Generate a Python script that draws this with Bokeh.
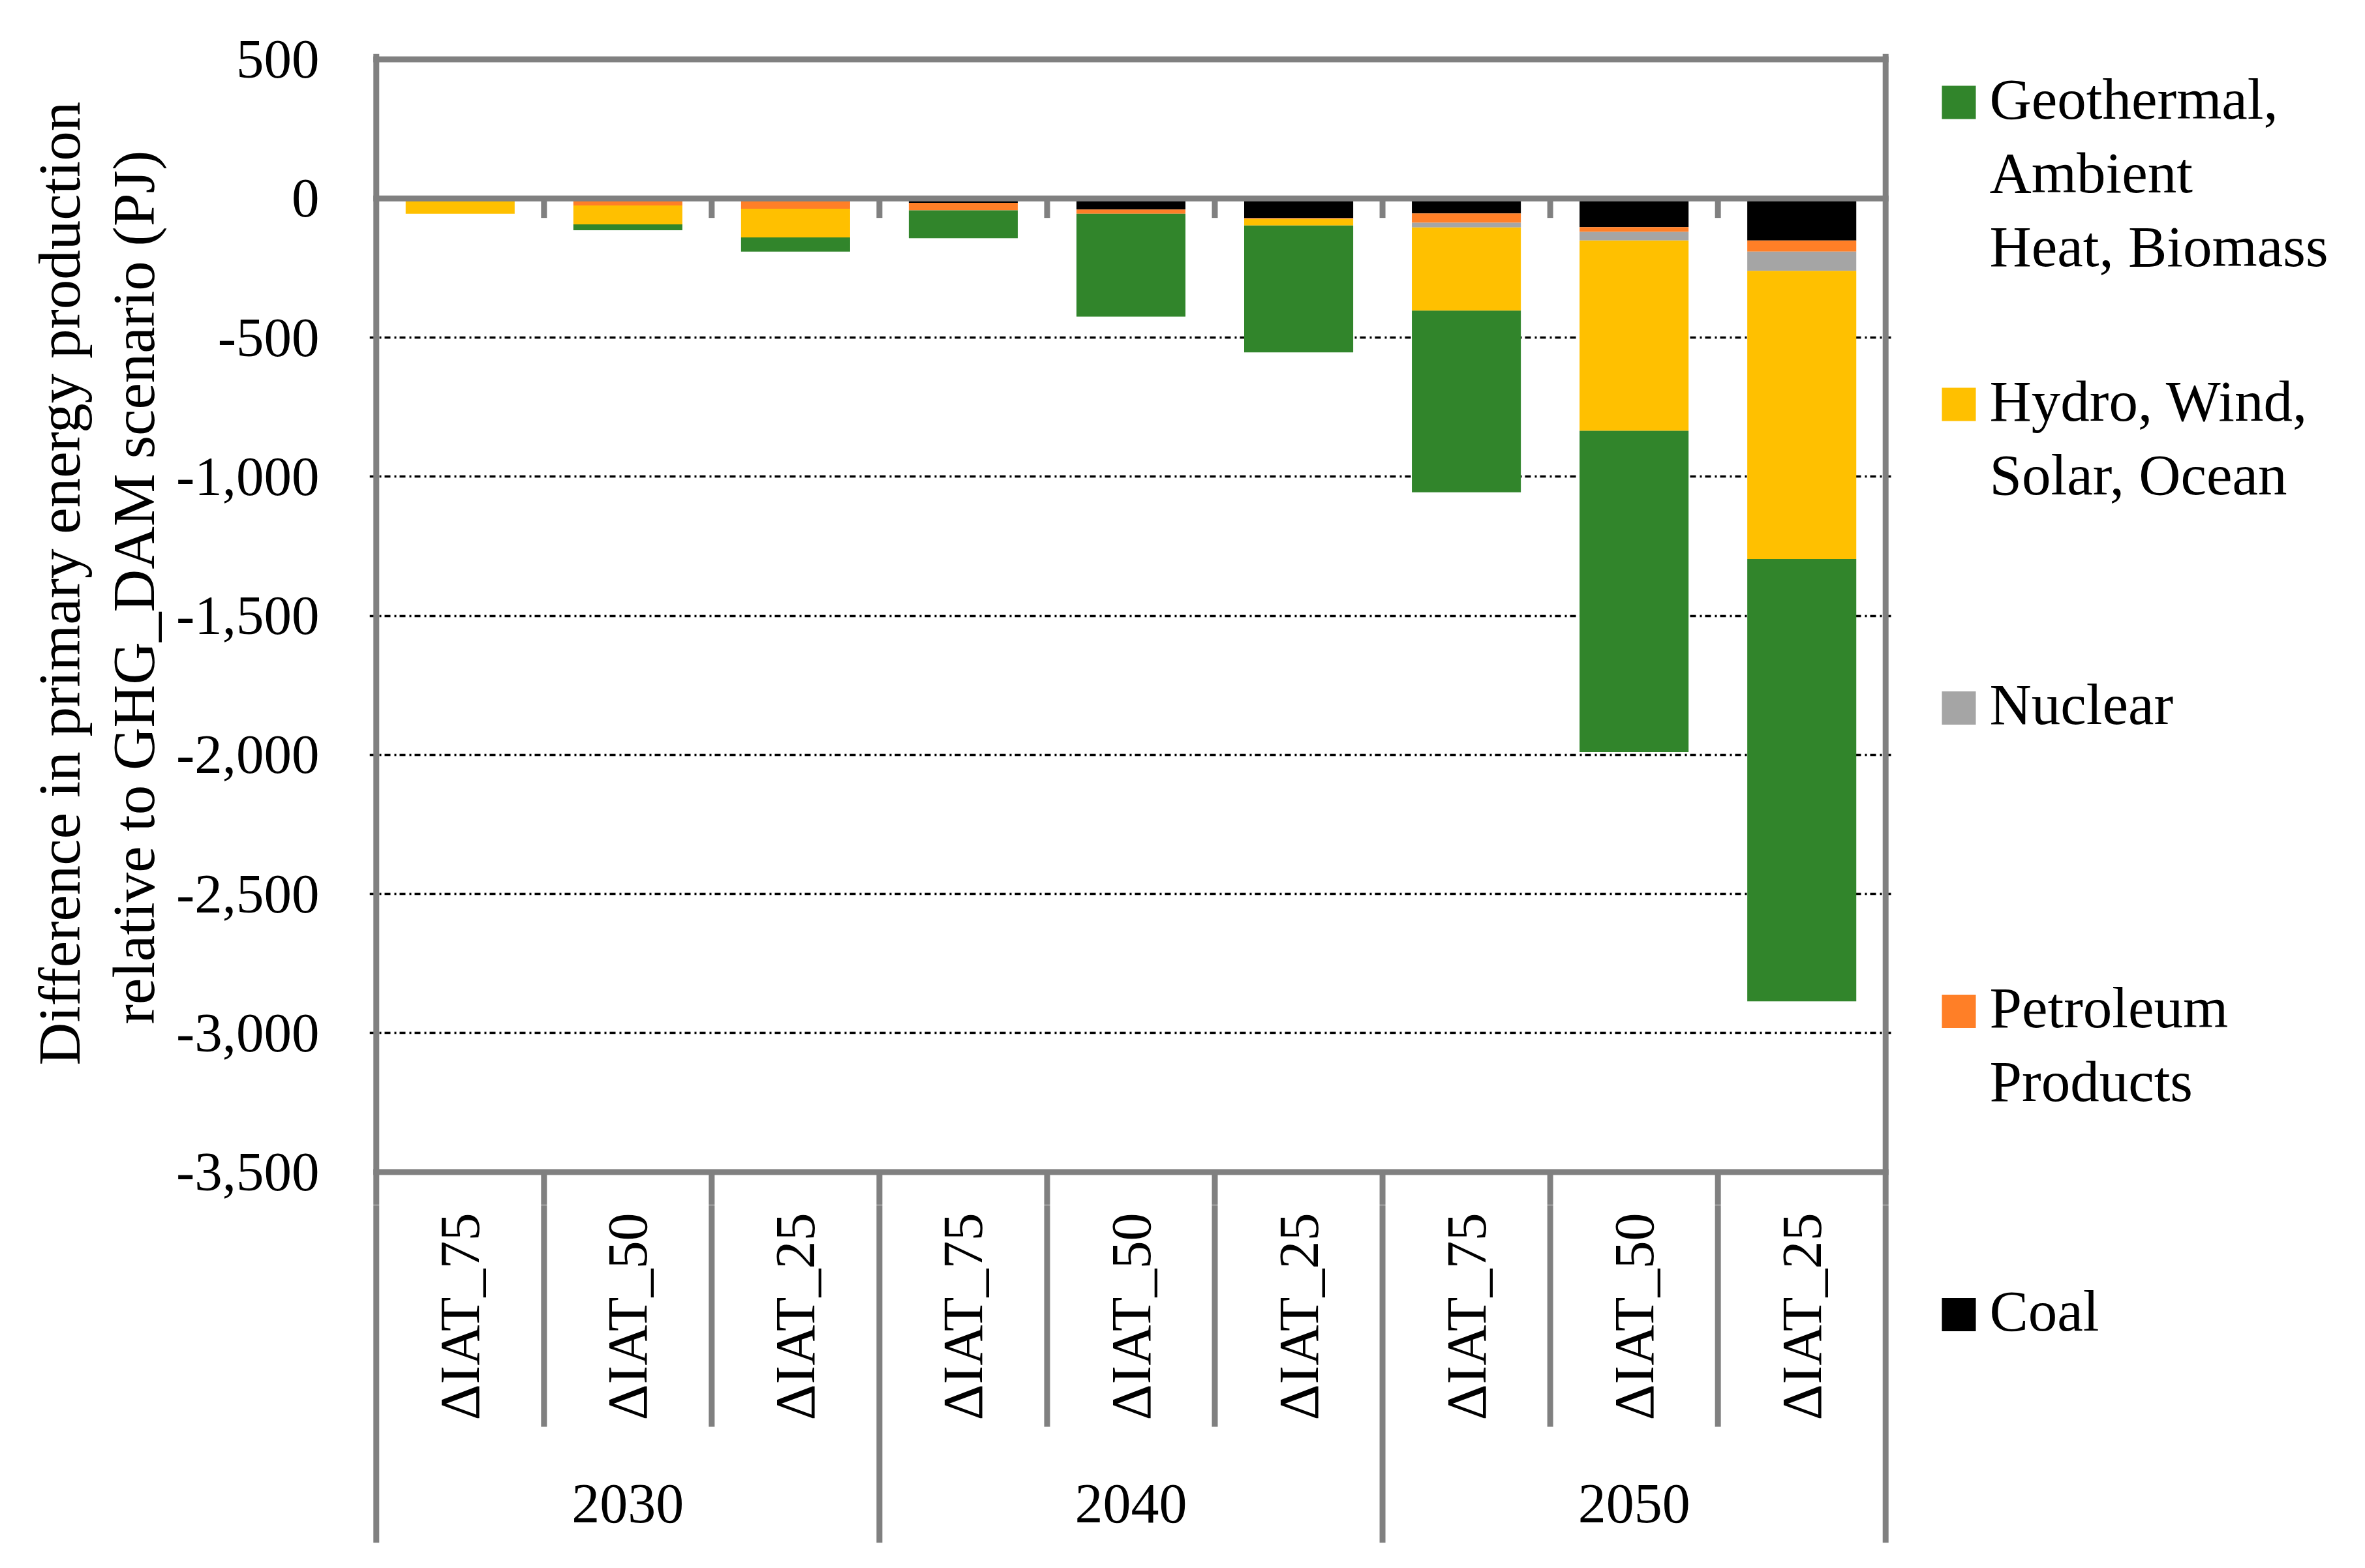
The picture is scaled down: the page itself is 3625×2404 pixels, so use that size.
import math
from bokeh.plotting import figure
from bokeh.layouts import row, column
from bokeh.models import (FactorRange, Range1d, FixedTicker, NumeralTickFormatter,
                          ColumnDataSource)
from bokeh.embed import file_html
from bokeh.resources import INLINE
from bokeh.core.properties import value

# ---------------- data ----------------
years = ["2030", "2040", "2050"]
scenarios = ["ΔIAT_75", "ΔIAT_50", "ΔIAT_25"]

coal = [0, 0, 0, -16, -40, -71, -54, -103, -151]
petroleum = [0, -25, -37, -27, -15, -3, -33, -17, -40]
nuclear = [0, 0, 0, 0, 0, 0, -17, -31, -69]
hydro = [-55, -68, -103, 0, 0, -23, -299, -684, -1036]
geo = [0, -21, -51, -100, -370, -456, -653, -1155, -1590]

series_keys = ["coal", "petroleum", "nuclear", "hydro", "geo"]
series_colors = ["#000000", "#FF7F27", "#A5A5A5", "#FFC000", "#31852B"]

legend_labels = ["Geothermal,\nAmbient\nHeat, Biomass", "Hydro, Wind,\nSolar, Ocean",
                 "Nuclear", "Petroleum\nProducts", "Coal"]
legend_colors = ["#31852B", "#FFC000", "#A5A5A5", "#FF7F27", "#000000"]

y_ticks = [500, 0, -500, -1000, -1500, -2000, -2500, -3000, -3500]
grid_ticks = [-500, -1000, -1500, -2000, -2500, -3000]

y_title_lines = ["Difference in primary energy production",
                 "relative to GHG_DAM scenario (PJ)"]

# ---------------- setup ----------------
FONT = "Liberation Serif"
GRAY = "#808080"
factors = [(y, s) for y in years for s in scenarios]
sub_labels = [s for y in years for s in scenarios]
mid_factors = [(y, scenarios[1]) for y in years]
n = len(factors)

source = ColumnDataSource(data=dict(x=factors, coal=coal, petroleum=petroleum,
                                    nuclear=nuclear, hydro=hydro, geo=geo))

xr = FactorRange(*factors, factor_padding=0, group_padding=0, subgroup_padding=0,
                 range_padding=0.08 / 9, range_padding_units="percent")

TITLE_W = 262
MAIN_W = 2646
LEG_W = 3625 - TITLE_W - MAIN_W
Y_MIN = -3618.3

# ---------------- y-axis title ----------------
tfig = figure(width=TITLE_W, height=2404, x_range=Range1d(0, TITLE_W),
              y_range=Range1d(-2404, 0), output_backend="svg", toolbar_location=None,
              x_axis_location=None, y_axis_location=None, min_border=0)
tfig.outline_line_color = None
tfig.grid.visible = False
tfig.text(x=[91, 205], y=[-894, -900], text=y_title_lines, angle=math.pi / 2,
          text_align="center", text_baseline="middle", text_font=value(FONT),
          text_font_size="91px", text_color="black")

# ---------------- bars ----------------
top = figure(width=MAIN_W, height=1847, x_range=xr, y_range=Range1d(Y_MIN, 520),
             output_backend="svg", toolbar_location=None, x_axis_location=None,
             min_border_left=304, min_border_right=8, min_border_top=82, min_border_bottom=0)
top.outline_line_color = None
top.xgrid.visible = False

ya = top.yaxis[0]
ya.ticker = FixedTicker(ticks=y_ticks)
ya.formatter = NumeralTickFormatter(format="0,0")
ya.axis_line_color = None
ya.major_tick_line_color = None
ya.minor_tick_line_color = None
ya.major_tick_in = 0
ya.major_tick_out = 0
ya.major_label_standoff = 77
ya.major_label_text_font = FONT
ya.major_label_text_font_size = "85px"
ya.major_label_text_color = "black"

top.ygrid.ticker = FixedTicker(ticks=grid_ticks)
top.ygrid.grid_line_color = "black"
top.ygrid.grid_line_width = 3.5
top.ygrid.grid_line_dash = "9 6 3 5"

top.vbar_stack(series_keys, x="x", width=0.65, source=source,
               fill_color=series_colors, line_color=None)

# horizontal frame lines (top, zero, bottom)
top.segment(x0=[0, 0, 0], x1=[n, n, n], y0=[500, 0, -3500], y1=[500, 0, -3500],
            line_color=GRAY, line_width=9, line_cap="square")
# left / right frame lines
top.segment(x0=[0, n], x1=[0, n], y0=[520, 520], y1=[Y_MIN, Y_MIN],
            line_color=GRAY, line_width=9)
# tick marks at the zero line
inner_x = list(range(1, n))
top.segment(x0=inner_x, x1=inner_x, y0=[0] * len(inner_x), y1=[-70] * len(inner_x),
            line_color=GRAY, line_width=9)
# start of the category separators below the plot area
top.segment(x0=inner_x, x1=inner_x, y0=[-3500] * len(inner_x), y1=[Y_MIN] * len(inner_x),
            line_color=GRAY, line_width=9)

# ---------------- category axis area ----------------
bot = figure(width=MAIN_W, height=557, x_range=xr, y_range=Range1d(-518, 0),
             output_backend="svg", toolbar_location=None, x_axis_location=None,
             y_axis_location=None, min_border_left=304, min_border_right=8,
             min_border_top=0, min_border_bottom=39)
bot.outline_line_color = None
bot.grid.visible = False

grp_x = [0, 3, 6, 9]
sub_x = [1, 2, 4, 5, 7, 8]
bot.segment(x0=grp_x, x1=grp_x, y0=[0] * 4, y1=[-518] * 4, line_color=GRAY, line_width=9)
bot.segment(x0=sub_x, x1=sub_x, y0=[0] * 6, y1=[-340] * 6, line_color=GRAY, line_width=9)

bot.text(x=factors, y=[-171] * n, text=sub_labels, angle=math.pi / 2,
         text_align="center", text_baseline="middle", text_font=value(FONT),
         text_font_size="86px", text_color="black")
bot.text(x=mid_factors, y=[-458] * 3, text=years, text_align="center",
         text_baseline="middle", text_font=value(FONT), text_font_size="86px",
         text_color="black")

# ---------------- legend ----------------
leg = figure(width=LEG_W, height=2404, x_range=Range1d(0, LEG_W), y_range=Range1d(-2404, 0),
             output_backend="svg", toolbar_location=None, x_axis_location=None,
             y_axis_location=None, min_border=0)
leg.outline_line_color = None
leg.grid.visible = False

marker_y = [156.5, 619.5, 1085, 1550, 2015]
leg.rect(x=[94] * 5, y=[-m for m in marker_y], width=52, height=51,
         fill_color=legend_colors, line_color=None)
tx, ty, tt = [], [], []
for lab, my in zip(legend_labels, marker_y):
    for j, line in enumerate(lab.split("\n")):
        tx.append(141)
        ty.append(-(my - 5.5 + j * 113))
        tt.append(line)
leg.text(x=tx, y=ty, text=tt, text_align="left", text_baseline="middle",
         text_font=value(FONT), text_font_size="89px", text_color="black")

layout = row(tfig, column(top, bot), leg)
open("out.html", "w").write(file_html(layout, INLINE))
